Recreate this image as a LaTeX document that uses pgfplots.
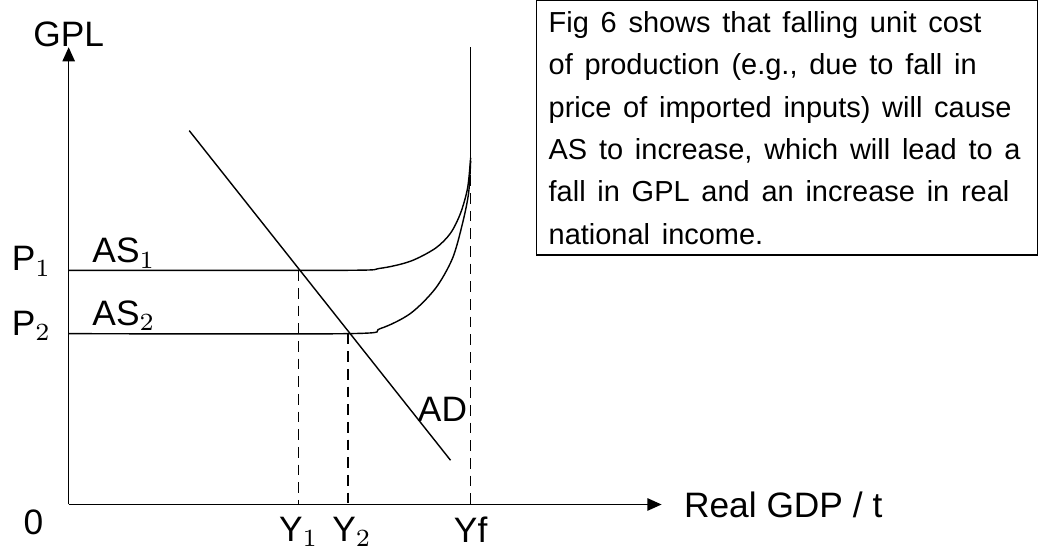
\documentclass[border=0pt]{standalone}
\usepackage{pgfplots}
\pgfplotsset{compat=1.18}
\usetikzlibrary{arrows.meta}
\usepackage{fontspec}
\setmainfont{Liberation Sans}
\begin{document}
\begin{tikzpicture}
\begin{axis}[scale only axis, width=10.38cm, height=5.68cm, xmin=0, xmax=1038, ymin=-568, ymax=0, hide axis, clip=false,
  every node/.style={font=\fontsize{8.2}{9}\selectfont}]
\addplot[black, thin, -{Triangle[length=4pt,width=3.5pt]}] coordinates {(60,-520) (60,-65)};
\addplot[black, thin, -{Triangle[length=4pt,width=3.5pt]}] coordinates {(60,-520) (650,-520)};
\addplot[black, thin] coordinates {(180,-148) (440,-476)};
\addplot[black, thin, smooth] coordinates {(60,-287) (333,-287) (370,-285) (400,-278) (425,-265) (440,-250) (450,-230) (457,-205) (460,-175)};
\addplot[black, thin] coordinates {(460,-175) (460,-65)};
\addplot[black, thin, smooth] coordinates {(60,-350) (338,-350) (370,-345) (400,-330) (425,-305) (442,-275) (452,-240) (458,-210) (460,-178)};
\addplot[black, thin, densely dashed] coordinates {(460,-175) (460,-520)};
\addplot[black, thin, densely dashed] coordinates {(289,-287) (289,-520)};
\addplot[black, thin, densely dashed] coordinates {(338,-350) (338,-520)};
\node at (axis cs:60,-52) {GPL};
\node[anchor=west] at (axis cs:660,-520) {Real GDP / t};
\node at (axis cs:25,-538) {0};
\node at (axis cs:23,-278) {P$_1$};
\node at (axis cs:23,-342) {P$_2$};
\node at (axis cs:115,-270) {AS$_1$};
\node at (axis cs:115,-332) {AS$_2$};
\node at (axis cs:432,-425) {AD};
\node at (axis cs:289,-547) {Y$_1$};
\node at (axis cs:342,-547) {Y$_2$};
\node at (axis cs:460,-545) {Yf};
\node[draw, thin, anchor=north west, inner xsep=3.4pt, inner ysep=3pt, minimum width=500*0.2835pt, minimum height=245*0.2835pt, text width=476*0.2835pt, align=left] at (axis cs:525,-18) {\fontsize{8.2}{9.15}\selectfont Fig 6 shows that falling unit cost of production (e.g., due to fall in price of imported inputs) will cause AS to increase, which will lead to a fall in GPL and an increase in real national income.};
\end{axis}
\end{tikzpicture}
\end{document}
